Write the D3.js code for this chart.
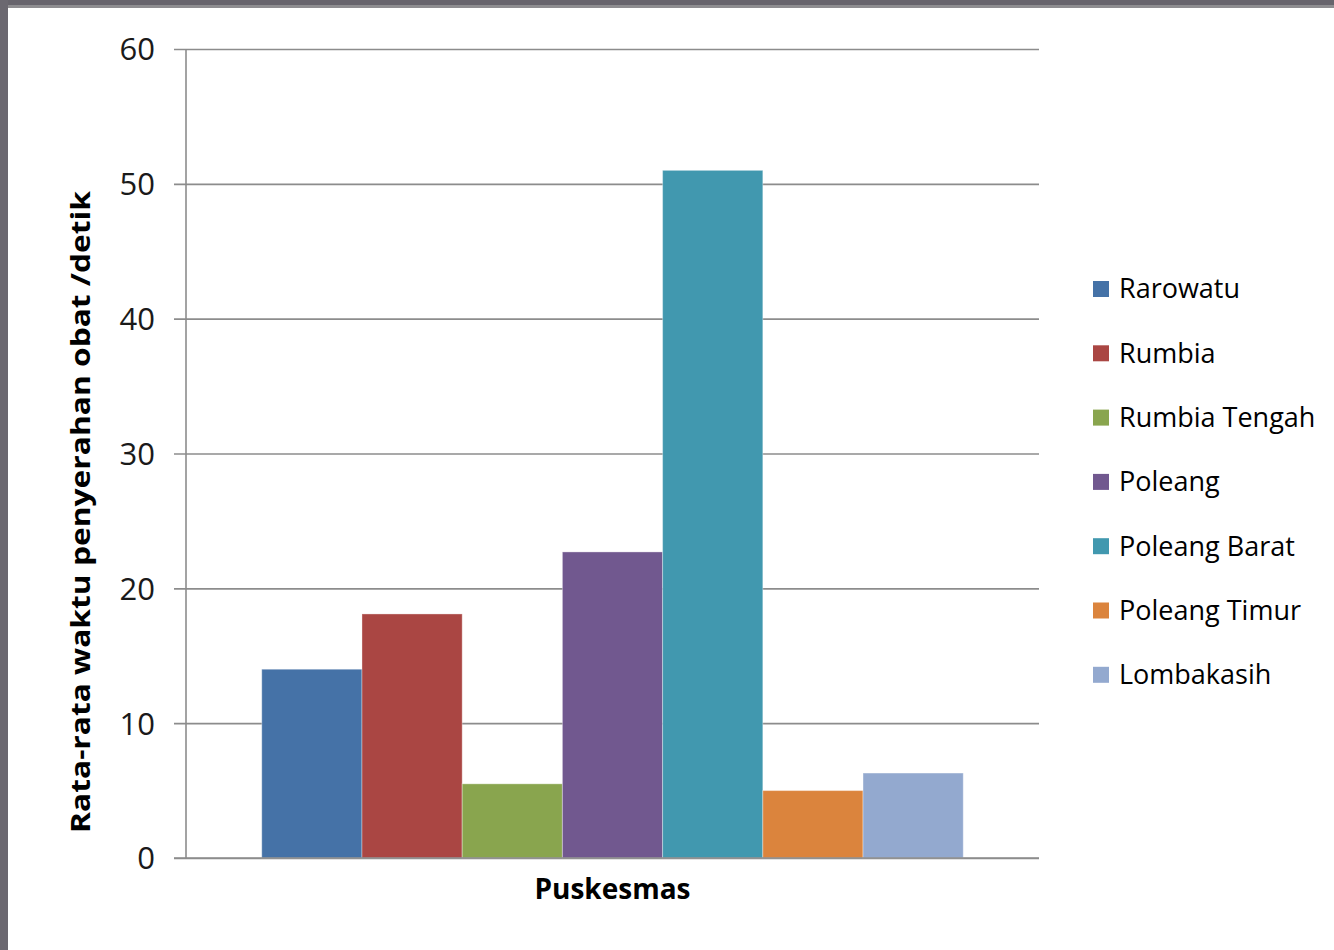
<!DOCTYPE html>
<html>
<head>
<meta charset="utf-8">
<script src="https://cdn.jsdelivr.net/npm/d3@7"></script>
<style>
  body { margin: 0; background: #fff; }
  svg { display: block; }
</style>
</head>
<body>
<div id="wrapper"></div>
<script>
const category = "Puskesmas";
const puskesmas = ["Rarowatu", "Rumbia", "Rumbia Tengah", "Poleang", "Poleang Barat", "Poleang Timur", "Lombakasih"];
const waktu = [14.0, 18.1, 5.5, 22.7, 51.0, 5.0, 6.3];
const colors = ["#4572a7", "#aa4643", "#89a54e", "#71588f", "#4198af", "#db843d", "#93a9cf"];
const yTicks = [0, 10, 20, 30, 40, 50, 60];
const yTitle = "Rata-rata waktu penyerahan obat /detik";

function drawBarChart() {
    let dimensions = {
        width: 1334,
        height: 950,
        margin: { top: 49, right: 295, bottom: 92, left: 186 },
    }
    dimensions.boundedWidth = dimensions.width - dimensions.margin.left - dimensions.margin.right;
    dimensions.boundedHeight = dimensions.height - dimensions.margin.top - dimensions.margin.bottom;

    const svg = d3.select("#wrapper")
        .append("svg")
        .attr("width", dimensions.width)
        .attr("height", dimensions.height);

    // picture frame, gray band at top and left
    svg.append("rect").attr("x", 0).attr("y", 0).attr("width", dimensions.width).attr("height", 8).attr("fill", "#8e8d90");
    svg.append("rect").attr("x", 0).attr("y", 0).attr("width", dimensions.width).attr("height", 5).attr("fill", "#67646c");
    svg.append("rect").attr("x", 0).attr("y", 0).attr("width", 8).attr("height", dimensions.height).attr("fill", "#6b6870");

    const bounds = svg.append("g")
        .attr("transform", `translate(${dimensions.margin.left},${dimensions.margin.top})`);

    const yScale = d3.scaleLinear()
        .domain([0, 60])
        .range([dimensions.boundedHeight, 0]);

    const xScale = d3.scaleBand()
        .domain([category])
        .range([0, dimensions.boundedWidth])
        .paddingInner(0)
        .paddingOuter(0.108);

    const xInner = d3.scaleBand()
        .domain(puskesmas)
        .range([0, xScale.bandwidth()]);

    // gridlines
    const yAxis = d3.axisLeft(yScale)
        .tickValues(yTicks)
        .tickSize(-dimensions.boundedWidth)
        .tickPadding(31)
        .tickFormat(d3.format("d"));

    const yAxisGroup = bounds.append("g").call(yAxis);
    yAxisGroup.select(".domain").remove();
    yAxisGroup.selectAll(".tick line")
        .attr("x1", -12)
        .attr("stroke", "#8c8c8c")
        .attr("stroke-width", 1.6);
    yAxisGroup.selectAll(".tick text")
        .attr("font-family", "'Open Sans', sans-serif")
        .attr("font-size", 31)
        .attr("fill", "#1a1a1a")
        .attr("dy", "0.35em");

    // y axis line
    bounds.append("line")
        .attr("x1", 0).attr("x2", 0)
        .attr("y1", yScale(60)).attr("y2", yScale(0))
        .attr("stroke", "#8c8c8c")
        .attr("stroke-width", 1.6);

    // bars
    const group = bounds.append("g")
        .attr("transform", `translate(${xScale(category)},0)`);

    group.selectAll("rect")
        .data(puskesmas)
        .join("rect")
        .attr("x", d => xInner(d))
        .attr("width", xInner.bandwidth())
        .attr("y", (d, i) => yScale(waktu[i]))
        .attr("height", (d, i) => yScale(0) - yScale(waktu[i]))
        .attr("fill", (d, i) => colors[i])
        .attr("stroke", "rgba(255,255,255,0.35)")
        .attr("stroke-width", 1);

    // baseline on top of bars
    bounds.append("line")
        .attr("x1", -12).attr("x2", dimensions.boundedWidth)
        .attr("y1", yScale(0)).attr("y2", yScale(0))
        .attr("stroke", "#8c8c8c")
        .attr("stroke-width", 1.6);

    // x axis label
    bounds.append("text")
        .attr("x", xScale(category) + xScale.bandwidth() / 2)
        .attr("y", dimensions.boundedHeight + 41)
        .attr("text-anchor", "middle")
        .attr("font-family", "'Open Sans', sans-serif")
        .attr("font-weight", 700)
        .attr("font-size", 28)
        .attr("fill", "#000")
        .text(category);

    // y axis title (stretched along its length like the reference)
    svg.append("text")
        .attr("transform", `translate(90, 512) scale(1, 1.22) rotate(-90)`)
        .attr("text-anchor", "middle")
        .attr("font-family", "'Open Sans', sans-serif")
        .attr("font-weight", 700)
        .attr("font-size", 26)
        .attr("fill", "#000")
        .text(yTitle);

    // legend
    const legend = svg.append("g")
        .attr("transform", "translate(1093, 289)");

    const rows = legend.selectAll("g")
        .data(puskesmas)
        .join("g")
        .attr("transform", (d, i) => `translate(0, ${i * 64.3})`);

    rows.append("rect")
        .attr("x", 0)
        .attr("y", -8)
        .attr("width", 16)
        .attr("height", 16)
        .attr("fill", (d, i) => colors[i]);

    rows.append("text")
        .attr("x", 26)
        .attr("y", 0)
        .attr("dy", "0.35em")
        .attr("font-family", "'Open Sans', sans-serif")
        .attr("font-size", 27)
        .attr("fill", "#000")
        .text(d => d);
}

drawBarChart();
</script>
</body>
</html>
